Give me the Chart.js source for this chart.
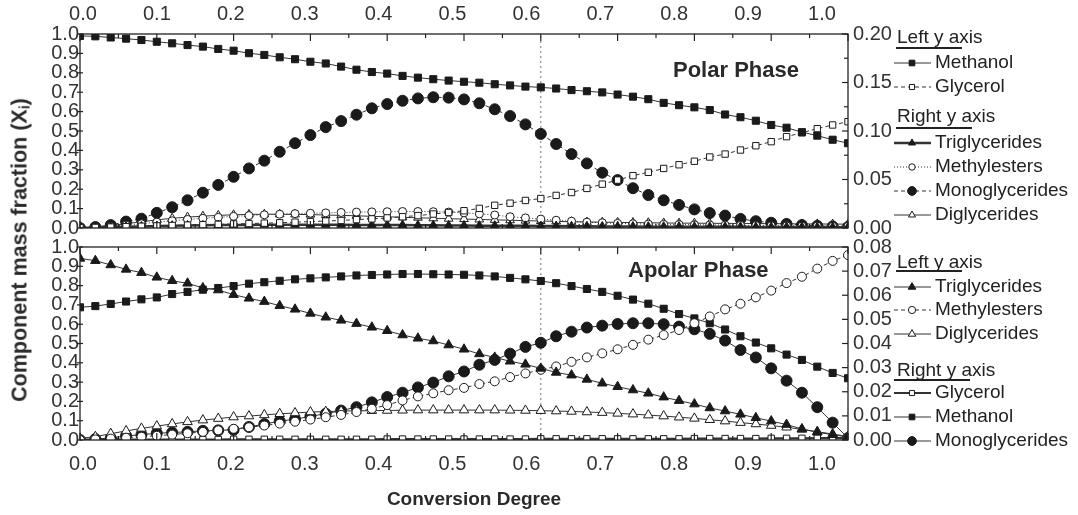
<!DOCTYPE html>
<html><head><meta charset="utf-8">
<script src="https://cdn.jsdelivr.net/npm/chart.js@4.4.0/dist/chart.umd.min.js"></script>
<style>
html,body{margin:0;padding:0;background:#fff;}
#wrap{position:relative;width:1078px;height:515px;overflow:hidden;background:#fff;}
canvas{position:absolute;left:0;top:0;}
.t{position:absolute;font-family:"Liberation Sans",Arial,sans-serif;font-weight:bold;color:#2a2a2a;white-space:nowrap;line-height:19px;font-size:19px;}
#ytitle{left:22px;top:250px;font-size:21.5px;line-height:22px;transform:translate(-50%,-50%) rotate(-90deg);}
#ytitle sub{font-size:14px;vertical-align:-3px;}
#xtitle{left:474px;top:489px;transform:translateX(-50%);}
#polar{left:673px;top:59px;font-size:22px;line-height:22px;}
#apolar{left:628px;top:259px;font-size:22px;line-height:22px;}
</style></head><body>
<div id="wrap">
<canvas id="cA" width="1078" height="515"></canvas>
<canvas id="cB" width="1078" height="515"></canvas>
<div class="t" id="ytitle">Component mass fraction (X<sub>i</sub>)</div>
<div class="t" id="xtitle">Conversion Degree</div>
<div class="t" id="polar">Polar Phase</div>
<div class="t" id="apolar">Apolar Phase</div>
</div>
<script>
// ---------- data ----------
const conversion = [0.00,0.02,0.04,0.06,0.08,0.10,0.12,0.14,0.16,0.18,
  0.20,0.22,0.24,0.26,0.28,0.30,0.32,0.34,0.36,0.38,
  0.40,0.42,0.44,0.46,0.48,0.50,0.52,0.54,0.56,0.58,
  0.60,0.62,0.64,0.66,0.68,0.70,0.72,0.74,0.76,0.78,
  0.80,0.82,0.84,0.86,0.88,0.90,0.92,0.94,0.96,0.98,1.00];
const xTickLabels = [0.0,0.1,0.2,0.3,0.4,0.5,0.6,0.7,0.8,0.9,1.0];
const leftTicks = [0.0,0.1,0.2,0.3,0.4,0.5,0.6,0.7,0.8,0.9,1.0];
const polarRightTicks = [0.00,0.05,0.10,0.15,0.20];
const apolarRightTicks = [0.00,0.01,0.02,0.03,0.04,0.05,0.06,0.07,0.08];
const dividerX = 0.6;

// Polar phase
const polarMethanol = [0.990,0.988,0.982,0.976,0.969,0.960,0.952,0.943,0.935,0.923,
 0.914,0.901,0.892,0.880,0.870,0.857,0.848,0.832,0.816,0.804,
 0.796,0.784,0.775,0.767,0.760,0.754,0.749,0.741,0.735,0.729,
 0.725,0.719,0.711,0.705,0.699,0.688,0.677,0.664,0.645,0.633,
 0.622,0.608,0.585,0.571,0.553,0.531,0.517,0.494,0.476,0.455,0.437];
const polarGlycerol = [0.002,0.003,0.005,0.007,0.009,0.011,0.013,0.015,0.017,0.019,
 0.021,0.023,0.025,0.027,0.030,0.033,0.036,0.039,0.043,0.047,
 0.052,0.058,0.064,0.072,0.080,0.089,0.101,0.117,0.128,0.142,
 0.152,0.168,0.183,0.204,0.226,0.247,0.270,0.287,0.307,0.326,
 0.344,0.366,0.381,0.402,0.424,0.445,0.471,0.491,0.512,0.531,0.548];
const polarTriglycerides = [0,0.0004,0.0008,0.0012,0.0016,0.0020,0.0024,0.0026,0.0028,0.0030,
 0.0032,0.0032,0.0034,0.0034,0.0034,0.0034,0.0034,0.0034,0.0032,0.0032,
 0.0030,0.0030,0.0028,0.0028,0.0026,0.0026,0.0024,0.0024,0.0022,0.0022,
 0.0020,0.0020,0.0018,0.0018,0.0016,0.0016,0.0016,0.0014,0.0014,0.0014,
 0.0012,0.0012,0.0012,0.0012,0.0010,0.0010,0.0010,0.0010,0.0008,0.0008,0.0008];
const polarMethylesters = [0,0.0006,0.0016,0.0030,0.0044,0.0060,0.0074,0.0088,0.0100,0.0110,
 0.0120,0.0128,0.0136,0.0142,0.0148,0.0152,0.0156,0.0160,0.0164,0.0166,
 0.0168,0.0170,0.0170,0.0168,0.0164,0.0156,0.0146,0.0134,0.0116,0.0104,
 0.0092,0.0080,0.0070,0.0060,0.0054,0.0048,0.0044,0.0040,0.0038,0.0036,
 0.0034,0.0032,0.0030,0.0028,0.0026,0.0024,0.0022,0.0020,0.0020,0.0018,0.0018];
const polarMonoglycerides = [0,0.0010,0.0030,0.0066,0.0096,0.0156,0.0214,0.0286,0.0364,0.0444,
 0.0528,0.0614,0.0694,0.0786,0.0874,0.0958,0.1040,0.1102,0.1168,0.1234,
 0.1278,0.1312,0.1336,0.1348,0.1344,0.1326,0.1286,0.1224,0.1154,0.1068,
 0.0970,0.0866,0.0762,0.0666,0.0570,0.0494,0.0410,0.0340,0.0286,0.0238,
 0.0192,0.0154,0.0128,0.0094,0.0070,0.0054,0.0042,0.0030,0.0022,0.0016,0.0010];
const polarDiglycerides = [0,0.0010,0.0024,0.0044,0.0064,0.0084,0.0100,0.0112,0.0122,0.0130,
 0.0136,0.0140,0.0142,0.0142,0.0140,0.0138,0.0134,0.0130,0.0126,0.0120,
 0.0116,0.0110,0.0106,0.0100,0.0096,0.0092,0.0088,0.0084,0.0080,0.0076,
 0.0072,0.0068,0.0064,0.0062,0.0060,0.0058,0.0056,0.0054,0.0052,0.0050,
 0.0050,0.0048,0.0048,0.0046,0.0046,0.0044,0.0044,0.0042,0.0042,0.0040,0.0040];

// Apolar phase
const apolarTriglycerides = [0.941,0.929,0.907,0.884,0.867,0.843,0.825,0.812,0.788,0.777,
 0.753,0.734,0.717,0.696,0.677,0.656,0.636,0.620,0.603,0.584,
 0.566,0.544,0.527,0.513,0.492,0.470,0.446,0.428,0.408,0.392,
 0.371,0.350,0.336,0.314,0.294,0.276,0.259,0.242,0.222,0.204,
 0.186,0.166,0.150,0.133,0.115,0.098,0.080,0.057,0.040,0.027,0.016];
const apolarMethylesters = [0.000,0.003,0.007,0.012,0.017,0.022,0.028,0.035,0.042,0.050,
 0.058,0.066,0.075,0.085,0.095,0.106,0.118,0.130,0.145,0.162,
 0.181,0.205,0.226,0.242,0.258,0.270,0.290,0.304,0.326,0.345,
 0.364,0.381,0.405,0.428,0.449,0.470,0.493,0.520,0.544,0.570,
 0.605,0.640,0.677,0.706,0.739,0.774,0.813,0.846,0.888,0.928,0.958];
const apolarDiglycerides = [0.009,0.017,0.033,0.047,0.060,0.072,0.083,0.094,0.103,0.111,
 0.119,0.124,0.130,0.136,0.140,0.145,0.147,0.150,0.151,0.152,
 0.153,0.154,0.155,0.155,0.155,0.155,0.155,0.155,0.154,0.153,
 0.152,0.150,0.148,0.145,0.142,0.138,0.134,0.129,0.124,0.118,
 0.112,0.105,0.098,0.090,0.083,0.075,0.066,0.055,0.043,0.031,0.018];
const apolarGlycerol = [0.0002,0.0002,0.0002,0.0002,0.0002,0.0002,0.0002,0.0002,0.0002,0.0002,
 0.0003,0.0003,0.0003,0.0003,0.0003,0.0003,0.0003,0.0003,0.0003,0.0003,
 0.0004,0.0004,0.0004,0.0004,0.0004,0.0004,0.0004,0.0004,0.0004,0.0004,
 0.0005,0.0005,0.0005,0.0005,0.0005,0.0005,0.0005,0.0005,0.0005,0.0005,
 0.0006,0.0006,0.0006,0.0006,0.0006,0.0007,0.0007,0.0007,0.0008,0.0008,0.0008];
const apolarMethanol = [0.0550,0.0555,0.0564,0.0574,0.0583,0.0591,0.0605,0.0614,0.0623,0.0630,
 0.0638,0.0648,0.0654,0.0660,0.0666,0.0670,0.0674,0.0678,0.0682,0.0684,
 0.0686,0.0688,0.0688,0.0687,0.0686,0.0685,0.0682,0.0678,0.0672,0.0666,
 0.0659,0.0650,0.0638,0.0626,0.0614,0.0598,0.0582,0.0565,0.0544,0.0522,
 0.0504,0.0484,0.0458,0.0430,0.0404,0.0380,0.0354,0.0332,0.0304,0.0278,0.0256];
const apolarMonoglycerides = [0,0.0004,0.0008,0.0017,0.0022,0.0028,0.0031,0.0034,0.0038,0.0040,
 0.0042,0.0054,0.0066,0.0078,0.0086,0.0098,0.0109,0.0122,0.0136,0.0156,
 0.0178,0.0196,0.0218,0.0238,0.0264,0.0284,0.0312,0.0332,0.0358,0.0386,
 0.0403,0.0430,0.0449,0.0466,0.0474,0.0481,0.0484,0.0484,0.0480,0.0470,
 0.0459,0.0440,0.0412,0.0373,0.0342,0.0297,0.0246,0.0196,0.0136,0.0072,0.0008];

// ---------- helpers ----------
const FONT = '"Liberation Sans", Arial, sans-serif';
const TXT = '#333';
const INK = '#1a1a1a';
const pts = arr => conversion.map((x, i) => ({x, y: arr[i]}));

function series(label, arr, axis, style, filled, radius, dash, width) {
  return {
    label, data: pts(arr), yAxisID: axis,
    borderColor: '#333', borderWidth: width || 1, borderDash: dash || [],
    pointStyle: style, pointRadius: radius, pointHoverRadius: radius,
    pointBackgroundColor: filled ? INK : '#fff', pointBorderColor: INK, pointBorderWidth: 1,
    tension: 0, fill: false
  };
}
function divider() {
  return { label: '_div', data: [{x: dividerX, y: 0}, {x: dividerX, y: 1}], yAxisID: 'y',
    borderColor: '#777', borderWidth: 1, borderDash: [2, 3], pointRadius: 0, fill: false };
}

function drawMarker(ctx, style, x, y, r, fill, stroke) {
  ctx.beginPath();
  if (style === 'rect') {
    const s = Math.SQRT1_2 * r; ctx.rect(x - s, y - s, 2 * s, 2 * s);
  } else if (style === 'triangle') {
    let a = 0;
    ctx.moveTo(x + Math.sin(a) * r, y - Math.cos(a) * r); a += 2 * Math.PI / 3;
    ctx.lineTo(x + Math.sin(a) * r, y - Math.cos(a) * r); a += 2 * Math.PI / 3;
    ctx.lineTo(x + Math.sin(a) * r, y - Math.cos(a) * r); ctx.closePath();
  } else {
    ctx.arc(x, y, r, 0, Math.PI * 2);
  }
  ctx.fillStyle = fill; ctx.fill();
  ctx.lineWidth = 1; ctx.setLineDash([]); ctx.strokeStyle = stroke; ctx.stroke();
}

const framePlugin = {
  id: 'frameTicks',
  afterDraw(chart, args, o) {
    const {ctx, chartArea: a, scales} = chart;
    ctx.save();
    ctx.strokeStyle = '#222'; ctx.lineWidth = 1.3; ctx.setLineDash([]);
    ctx.strokeRect(a.left, a.top, a.right - a.left, a.bottom - a.top);
    ctx.lineWidth = 1.2;
    const line = (x0, y0, x1, y1) => { ctx.beginPath(); ctx.moveTo(x0, y0); ctx.lineTo(x1, y1); ctx.stroke(); };
    const xs = scales.x;
    for (let i = 0; i <= 20; i++) {
      const px = xs.getPixelForValue(i * 0.05);
      const len = i % 2 === 0 ? 7 : 4;
      line(px, a.top, px, a.top + len);
      line(px, a.bottom, px, a.bottom - len);
    }
    leftTicks.forEach(v => { const py = scales.y.getPixelForValue(v); line(a.left - 3, py, a.left + 3, py); });
    const yr = scales.yr;
    const n = Math.round((yr.max - yr.min) / o.rStep);
    for (let i = 0; i <= n; i++) {
      const py = yr.getPixelForValue(yr.min + i * o.rStep);
      line(a.right, py, a.right - (i % o.rMajor === 0 ? 6 : 4), py);
    }
    ctx.restore();
  }
};

const legendPlugin = {
  id: 'sideLegend',
  afterDraw(chart, args, o) {
    const ctx = chart.ctx;
    ctx.save();
    ctx.font = '19px ' + FONT;
    ctx.textBaseline = 'middle';
    o.items.forEach(it => {
      if (it.header) {
        ctx.fillStyle = '#222';
        ctx.fillText(it.header, 897, it.y);
        ctx.beginPath(); ctx.setLineDash([]); ctx.lineWidth = 2; ctx.strokeStyle = '#222';
        ctx.moveTo(it.ul[0], it.uy); ctx.lineTo(it.ul[1], it.uy); ctx.stroke();
      } else {
        const ds = chart.data.datasets[it.ds];
        ctx.beginPath(); ctx.setLineDash(ds.borderDash || []); ctx.lineWidth = ds.borderWidth;
        ctx.strokeStyle = ds.borderColor;
        ctx.moveTo(894, it.y); ctx.lineTo(931, it.y); ctx.stroke(); ctx.setLineDash([]);
        drawMarker(ctx, ds.pointStyle, 912, it.y, ds.pointRadius * 0.8, ds.pointBackgroundColor, ds.pointBorderColor);
        ctx.fillStyle = '#222';
        ctx.fillText(ds.label, 935, it.y);
      }
    });
    ctx.restore();
  }
};

const tickFont = {family: FONT, size: 20};
function scalesFor(pos, axisH, rMax, rTicks, rDigits, labPad) {
  return {
    x: {type: 'linear', min: 0, max: 1, display: false},
    xl: {type: 'linear', position: pos, min: -0.00406, max: 1.0352,
      afterBuildTicks: s => { s.ticks = xTickLabels.map(v => ({value: v})); },
      afterFit: s => { s.height = axisH; },
      ticks: {autoSkip: false, maxRotation: 0, padding: labPad, font: tickFont, color: TXT,
        callback: v => Number(v).toFixed(1)},
      grid: {display: false, drawTicks: false}, border: {display: false}},
    y: {type: 'linear', position: 'left', min: 0, max: 1,
      afterBuildTicks: s => { s.ticks = leftTicks.map(v => ({value: v})); },
      afterFit: s => { s.width = 80; },
      ticks: {autoSkip: false, padding: 1, font: tickFont, color: TXT, callback: v => Number(v).toFixed(1)},
      grid: {display: false, drawTicks: false}, border: {display: false}},
    yr: {type: 'linear', position: 'right', min: 0, max: rMax,
      afterBuildTicks: s => { s.ticks = rTicks.map(v => ({value: v})); },
      afterFit: s => { s.width = 230; },
      ticks: {autoSkip: false, padding: 5, font: tickFont, color: TXT, callback: v => Number(v).toFixed(rDigits)},
      grid: {display: false, drawTicks: false}, border: {display: false}}
  };
}

const common = {responsive: false, maintainAspectRatio: false, animation: false, devicePixelRatio: 1,
  events: []};

// ---------- Polar (top) ----------
new Chart(document.getElementById('cA'), {
  type: 'line',
  data: {datasets: [
    series('Methanol', polarMethanol, 'y', 'rect', true, 5, [], 1),
    series('Glycerol', polarGlycerol, 'y', 'rect', false, 4.5, [4, 3], 1),
    series('Triglycerides', polarTriglycerides, 'yr', 'triangle', true, 5, [], 2.5),
    series('Methylesters', polarMethylesters, 'yr', 'circle', false, 4, [1, 2], 1),
    series('Monoglycerides', polarMonoglycerides, 'yr', 'circle', true, 5.5, [4, 3], 1),
    series('Diglycerides', polarDiglycerides, 'yr', 'triangle', false, 5, [], 1),
    divider()
  ]},
  options: Object.assign({}, common, {
    layout: {padding: {top: 0, left: 0, right: 0, bottom: 287}},
    scales: scalesFor('top', 34, 0.2, polarRightTicks, 2, 8),
    plugins: {legend: {display: false}, tooltip: {enabled: false},
      frameTicks: {rStep: 0.025, rMajor: 2},
      sideLegend: {items: [
        {header: 'Left y axis', y: 38, ul: [896, 962], uy: 48},
        {ds: 0, y: 63}, {ds: 1, y: 87},
        {header: 'Right y axis', y: 117, ul: [896, 972], uy: 128},
        {ds: 2, y: 143}, {ds: 3, y: 167}, {ds: 4, y: 191}, {ds: 5, y: 215}
      ]}}
  }),
  plugins: [framePlugin, legendPlugin]
});

// ---------- Apolar (bottom) ----------
new Chart(document.getElementById('cB'), {
  type: 'line',
  data: {datasets: [
    series('Triglycerides', apolarTriglycerides, 'y', 'triangle', true, 5.5, [], 1),
    series('Methylesters', apolarMethylesters, 'y', 'circle', false, 4.5, [4, 3], 1),
    series('Diglycerides', apolarDiglycerides, 'y', 'triangle', false, 5.5, [], 1),
    series('Glycerol', apolarGlycerol, 'yr', 'rect', false, 4.5, [], 2.2),
    series('Methanol', apolarMethanol, 'yr', 'rect', true, 5, [], 1),
    series('Monoglycerides', apolarMonoglycerides, 'yr', 'circle', true, 5.5, [], 1),
    divider()
  ]},
  options: Object.assign({}, common, {
    layout: {padding: {top: 247, left: 0, right: 0, bottom: 0}},
    scales: scalesFor('bottom', 75, 0.08, apolarRightTicks, 2, 12),
    plugins: {legend: {display: false}, tooltip: {enabled: false},
      frameTicks: {rStep: 0.01, rMajor: 1},
      sideLegend: {items: [
        {header: 'Left y axis', y: 263, ul: [896, 962], uy: 271},
        {ds: 0, y: 287}, {ds: 1, y: 310}, {ds: 2, y: 334},
        {header: 'Right y axis', y: 371, ul: [894, 970], uy: 380},
        {ds: 3, y: 393}, {ds: 4, y: 417}, {ds: 5, y: 441}
      ]}}
  }),
  plugins: [framePlugin, legendPlugin]
});
</script>
</body></html>
